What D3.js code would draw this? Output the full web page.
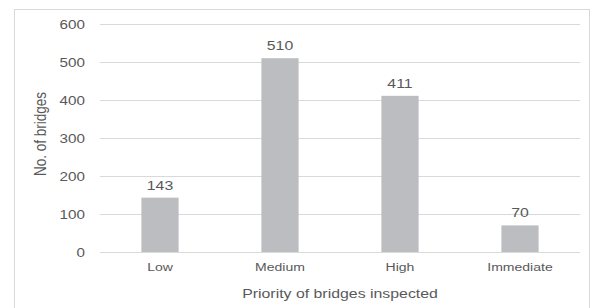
<!DOCTYPE html>
<html>
<head>
<meta charset="utf-8">
<script src="https://cdn.jsdelivr.net/npm/d3@7"></script>
<style>
  body { margin: 0; background: #fff; }
  text { font-family: "Liberation Sans", Arial, sans-serif; fill: #595959; }
</style>
</head>
<body>
<div id="chart"></div>
<script>
// chart data
const categories = ["Low", "Medium", "High", "Immediate"];
const counts = [143, 510, 411, 70];
const yTicks = [0, 100, 200, 300, 400, 500, 600];

const W = 598, H = 308;
const stretch = 1.22; // source text looks horizontally stretched

const svg = d3.select("#chart").append("svg")
    .attr("width", W)
    .attr("height", H);

// outer frame
svg.append("rect")
    .attr("x", 14.5).attr("y", 9.5)
    .attr("width", 575).attr("height", 320)
    .attr("fill", "none")
    .attr("stroke", "#d9d9d9");

const x = d3.scaleBand()
    .domain(categories)
    .range([100, 580])
    .paddingInner(0.69)
    .paddingOuter(0.345);

const y = d3.scaleLinear()
    .domain([0, 600])
    .range([252, 24]);

// gridlines
svg.append("g").selectAll("line")
    .data(yTicks)
    .enter().append("line")
    .attr("x1", 100).attr("x2", 580)
    .attr("y1", d => Math.round(y(d)) + 0.5)
    .attr("y2", d => Math.round(y(d)) + 0.5)
    .attr("stroke", "#d9d9d9")
    .attr("stroke-width", 1);

// y tick labels
svg.append("g").selectAll("text")
    .data(yTicks)
    .enter().append("text")
    .attr("transform", d => "translate(85," + (y(d) + 4.5) + ") scale(" + stretch + ",1)")
    .attr("text-anchor", "end")
    .style("font-size", "12.5px")
    .text(d => d);

// bars
svg.append("g").selectAll("rect")
    .data(counts)
    .enter().append("rect")
    .attr("x", (d, i) => x(categories[i]))
    .attr("y", d => y(d))
    .attr("width", x.bandwidth())
    .attr("height", d => y(0) - y(d))
    .attr("fill", "#bcbdc0");

// value labels
svg.append("g").selectAll("text")
    .data(counts)
    .enter().append("text")
    .attr("transform", (d, i) => "translate(" + (x(categories[i]) + x.bandwidth() / 2) + "," + (y(d) - 8) + ") scale(" + stretch + ",1)")
    .attr("text-anchor", "middle")
    .style("font-size", "13px")
    .text(d => d);

// category labels
svg.append("g").selectAll("text")
    .data(categories)
    .enter().append("text")
    .attr("transform", d => "translate(" + (x(d) + x.bandwidth() / 2) + ",271) scale(" + stretch + ",1)")
    .attr("text-anchor", "middle")
    .style("font-size", "11.5px")
    .text(d => d);

// axis titles
svg.append("text")
    .attr("transform", "translate(340,298) scale(" + stretch + ",1)")
    .attr("text-anchor", "middle")
    .style("font-size", "13px")
    .text("Priority of bridges inspected");

svg.append("text")
    .attr("transform", "translate(46,134) rotate(-90) scale(1," + stretch + ")")
    .attr("text-anchor", "middle")
    .style("font-size", "13.5px")
    .text("No. of bridges");
</script>
</body>
</html>
